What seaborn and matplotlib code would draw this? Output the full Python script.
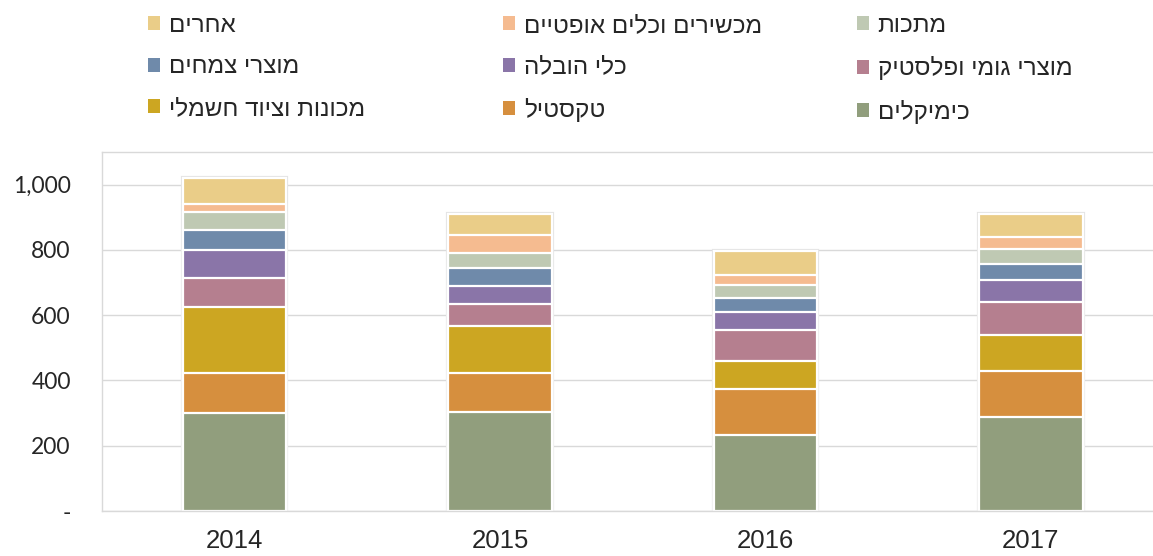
import pandas as pd
import seaborn as sns
import matplotlib.pyplot as plt
from matplotlib.patches import Patch
from matplotlib.ticker import FuncFormatter, FixedLocator


years = ['2014', '2015', '2016', '2017']

# stack from the bottom up
chemicals = [300, 303, 234, 288]
textile = [122, 119, 140, 141]
machinery = [204, 145, 87, 110]
rubber_plastic = [87, 67, 95, 101]
vehicles = [88, 54, 53, 68]
plant_products = [61, 58, 44, 49]
metals = [55, 45, 40, 47]
optical = [25, 56, 29, 36]
others = [79, 62, 74, 71]

names = ['כימיקלים', 'טקסטיל', 'מכונות וציוד חשמלי', 'מוצרי גומי ופלסטיק',
         'כלי הובלה', 'מוצרי צמחים', 'מתכות', 'מכשירים וכלים אופטיים', 'אחרים']
colors = ['#919e7d', '#d68f3e', '#cca622', '#b57f8f', '#8a75a8',
          '#6f8aaa', '#bfc9b3', '#f5bb90', '#eacd88']

# legend columns, left to right (indices into names)
legend_cols = [[8, 5, 2], [7, 4, 1], [6, 3, 0]]
legend_x = [148, 503, 857]

grid_color = '#d9d9d9'


def rtl(text):
    # matplotlib has no bidi support, so flip hebrew for display
    return text[::-1]


series = [chemicals, textile, machinery, rubber_plastic, vehicles,
          plant_products, metals, optical, others]
df = pd.DataFrame(dict(zip(names, series)), index=years)
cum = df.cumsum(axis=1)

sns.set_style('white')
plt.rcParams['font.family'] = ['Liberation Sans', 'DejaVu Sans']

W, H = 1153, 556
fig = plt.figure(figsize=(W / 100, H / 100), dpi=100)
ax = fig.add_axes([102 / W, 1 - 511 / H, 1 - 102 / W, (511 - 152) / H])

# soft outline round each whole bar
sns.barplot(x=years, y=cum[names[-1]].values, color='#e4e4e4', width=0.39,
            edgecolor='#e4e4e4', linewidth=3, errorbar=None, ax=ax)

# stacked bars: draw cumulative totals from the top down
for name, c in zip(names[::-1], colors[::-1]):
    sns.barplot(x=years, y=cum[name].values, color=c, width=0.39,
                edgecolor='white', linewidth=1.6, errorbar=None,
                saturation=1, ax=ax)

ax.set_ylim(0, 1100)
ax.set_xlim(-0.5, 3.46)
ax.set_xlabel('')
ax.set_ylabel('')

ax.yaxis.set_major_locator(FixedLocator([0, 200, 400, 600, 800, 1000]))
ax.yaxis.set_major_formatter(FuncFormatter(lambda v, p: '-' if v == 0 else '{:,.0f}'.format(v)))
ax.yaxis.grid(True, color=grid_color, linewidth=1)
ax.set_axisbelow(True)

ax.tick_params(axis='y', length=6.5, width=1, color=grid_color, pad=16, labelsize=16.5)
for lab in ax.get_yticklabels():
    lab.set_family(['Lato', 'DejaVu Sans'])

ax.xaxis.set_minor_locator(FixedLocator([-0.5, 0.5, 1.5, 2.5, 3.5]))
ax.tick_params(axis='x', which='major', length=0, pad=13, labelsize=18.5)
ax.tick_params(axis='x', which='minor', length=6, width=1, color=grid_color)

for side in ['left', 'bottom', 'top']:
    ax.spines[side].set_color(grid_color)
    ax.spines[side].set_linewidth(1)
ax.spines['right'].set_visible(False)

for col, x in zip(legend_cols, legend_x):
    handles = [Patch(facecolor=colors[i], edgecolor='none') for i in col]
    labels = [rtl(names[i]) for i in col]
    fig.legend(handles, labels, loc='upper left',
               bbox_to_anchor=(x / W, 1 - 15 / H), frameon=False,
               fontsize=17.5, handlelength=0.5, handleheight=0.5,
               handletextpad=0.35, labelspacing=0.8,
               borderpad=0, borderaxespad=0)

fig.savefig('out.png', dpi=100)
